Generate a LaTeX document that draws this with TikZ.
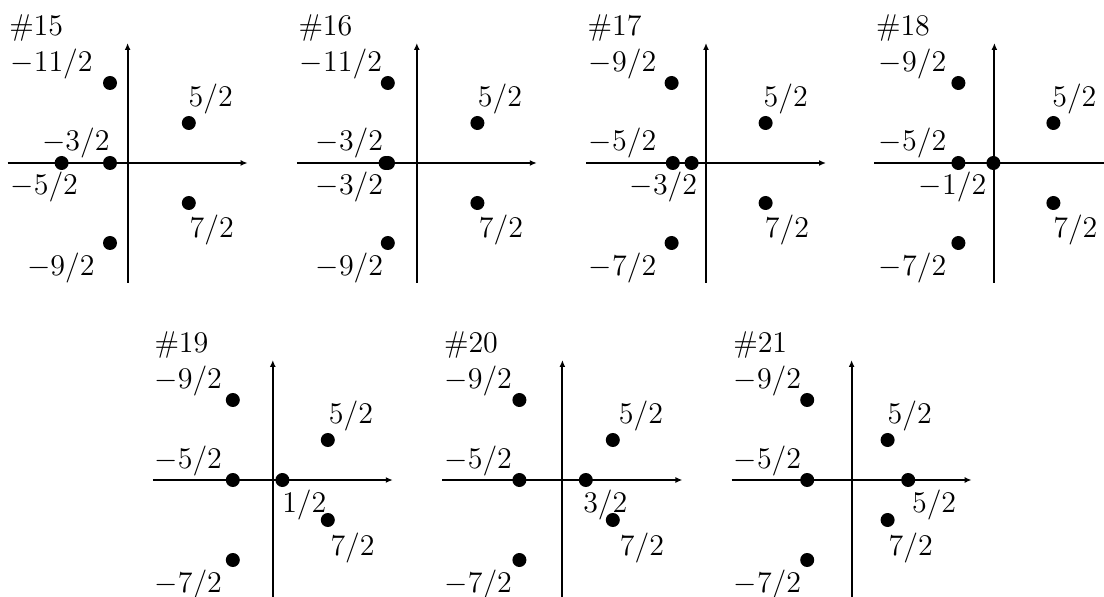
\documentclass[tikz,border=0pt]{standalone}
\usepackage{amsmath}
\usetikzlibrary{arrows.meta}

\begin{document}
\begin{tikzpicture}[
      x=16pt, y=16pt,
      every node/.style={font=\fontsize{12}{14}\selectfont},
      axis/.style={line width=0.75pt, -{Latex[length=2.8pt,width=2.4pt]}},
      dot/.style={circle, fill, draw=none, inner sep=0pt, minimum size=5.6pt},
      lbl/.style={anchor=base west, inner sep=0pt}
    ]
    \path[use as bounding box, clip] (0,0) rectangle (27.6,14.9);

    % axes and titles
    \foreach \n/\px/\py/\w in {15/3.19/10.825/1.0, 16/10.42/10.825/1.0,
                              17/17.65/10.825/1.0, 18/24.86/10.825/1.0,
                              19/6.82/2.9/0.75, 20/14.06/2.9/0.75, 21/21.29/2.9/0.75} {
      \begin{scope}[shift={(\px,\py)}]
        \coordinate (w\n) at (-3,0);
        \coordinate (e\n) at (3,0);
        \coordinate (s\n) at (0,-3);
        \coordinate (n\n) at (0,3);
        \draw[axis, line width=\w pt] (w\n) -- (e\n);
        \draw[axis] (s\n) -- (n\n);
        \node[lbl] (t\n) at (-2.97,3.175) {$\#\n$};
      \end{scope}
    }

    % #15
    \begin{scope}[shift={(3.19,10.825)}]
      \node[dot] (d15a) at (-0.44,2) {};
      \node[dot] (d15b) at (1.53,1) {};
      \node[dot] (d15c) at (-1.65,0) {};
      \node[dot] (d15d) at (-0.44,0) {};
      \node[dot] (d15e) at (1.53,-1) {};
      \node[dot] (d15f) at (-0.44,-2) {};
      \node[lbl] (l15a) at (-2.94,2.29) {$-11/2$};
      \node[lbl] (l15b) at (1.515,1.4) {$5/2$};
      \node[lbl] (l15c) at (-2.15,0.3) {$-3/2$};
      \node[lbl] (l15d) at (-2.94,-0.8) {$-5/2$};
      \node[lbl] (l15e) at (1.54,-1.875) {$7/2$};
      \node[lbl] (l15f) at (-2.525,-2.81) {$-9/2$};
    \end{scope}

    % #16
    \begin{scope}[shift={(10.42,10.825)}]
      \node[dot] (d16a) at (-0.725,2) {};
      \node[dot] (d16b) at (1.515,1) {};
      \node[dot] (d16c) at (-0.78,0) {};
      \node[dot] (d16d) at (-0.72,0) {};
      \node[dot] (d16e) at (1.515,-1) {};
      \node[dot] (d16f) at (-0.725,-2) {};
      \node[lbl] (l16a) at (-2.935,2.29) {$-11/2$};
      \node[lbl] (l16b) at (1.515,1.4) {$5/2$};
      \node[lbl] (l16c) at (-2.54,0.3) {$-3/2$};
      \node[lbl] (l16d) at (-2.54,-0.8) {$-3/2$};
      \node[lbl] (l16e) at (1.54,-1.875) {$7/2$};
      \node[lbl] (l16f) at (-2.54,-2.81) {$-9/2$};
    \end{scope}

    % #17
    \begin{scope}[shift={(17.65,10.825)}]
      \node[dot] (d17a) at (-0.86,2) {};
      \node[dot] (d17b) at (1.49,1) {};
      \node[dot] (d17c) at (-0.83,0) {};
      \node[dot] (d17d) at (-0.36,0) {};
      \node[dot] (d17e) at (1.49,-1) {};
      \node[dot] (d17f) at (-0.86,-2) {};
      \node[lbl] (l17a) at (-2.94,2.29) {$-9/2$};
      \node[lbl] (l17b) at (1.43,1.4) {$5/2$};
      \node[lbl] (l17c) at (-2.94,0.3) {$-5/2$};
      \node[lbl] (l17d) at (-1.92,-0.8) {$-3/2$};
      \node[lbl] (l17e) at (1.46,-1.875) {$7/2$};
      \node[lbl] (l17f) at (-2.94,-2.81) {$-7/2$};
    \end{scope}

    % #18
    \begin{scope}[shift={(24.86,10.825)}]
      \node[dot] (d18a) at (-0.9,2) {};
      \node[dot] (d18b) at (1.475,1) {};
      \node[dot] (d18c) at (-0.9,0) {};
      \node[dot] (d18d) at (-0.025,0) {};
      \node[dot] (d18e) at (1.475,-1) {};
      \node[dot] (d18f) at (-0.9,-2) {};
      \node[lbl] (l18a) at (-2.9,2.29) {$-9/2$};
      \node[lbl] (l18b) at (1.435,1.4) {$5/2$};
      \node[lbl] (l18c) at (-2.9,0.3) {$-5/2$};
      \node[lbl] (l18d) at (-1.9,-0.8) {$-1/2$};
      \node[lbl] (l18e) at (1.46,-1.875) {$7/2$};
      \node[lbl] (l18f) at (-2.9,-2.81) {$-7/2$};
    \end{scope}

    % #19
    \begin{scope}[shift={(6.82,2.9)}]
      \node[dot] (d19a) at (-1.0,2) {};
      \node[dot] (d19b) at (1.375,1) {};
      \node[dot] (d19c) at (-1.0,0) {};
      \node[dot] (d19d) at (0.24,0) {};
      \node[dot] (d19e) at (1.375,-1) {};
      \node[dot] (d19f) at (-1.0,-2) {};
      \node[lbl] (l19a) at (-2.97,2.29) {$-9/2$};
      \node[lbl] (l19b) at (1.39,1.4) {$5/2$};
      \node[lbl] (l19c) at (-2.97,0.3) {$-5/2$};
      \node[lbl] (l19d) at (0.225,-0.8) {$1/2$};
      \node[lbl] (l19e) at (1.43,-1.875) {$7/2$};
      \node[lbl] (l19f) at (-2.97,-2.81) {$-7/2$};
    \end{scope}

    % #20
    \begin{scope}[shift={(14.06,2.9)}]
      \node[dot] (d20a) at (-1.075,2) {};
      \node[dot] (d20b) at (1.26,1) {};
      \node[dot] (d20c) at (-1.075,0) {};
      \node[dot] (d20d) at (0.585,0) {};
      \node[dot] (d20e) at (1.26,-1) {};
      \node[dot] (d20f) at (-1.075,-2) {};
      \node[lbl] (l20a) at (-2.96,2.29) {$-9/2$};
      \node[lbl] (l20b) at (1.4,1.4) {$5/2$};
      \node[lbl] (l20c) at (-2.96,0.3) {$-5/2$};
      \node[lbl] (l20d) at (0.51,-0.8) {$3/2$};
      \node[lbl] (l20e) at (1.425,-1.875) {$7/2$};
      \node[lbl] (l20f) at (-2.96,-2.81) {$-7/2$};
    \end{scope}

    % #21
    \begin{scope}[shift={(21.29,2.9)}]
      \node[dot] (d21a) at (-1.11,2) {};
      \node[dot] (d21b) at (0.9,1) {};
      \node[dot] (d21c) at (-1.11,0) {};
      \node[dot] (d21d) at (1.415,0) {};
      \node[dot] (d21e) at (0.9,-1) {};
      \node[dot] (d21f) at (-1.11,-2) {};
      \node[lbl] (l21a) at (-2.96,2.29) {$-9/2$};
      \node[lbl] (l21b) at (0.89,1.4) {$5/2$};
      \node[lbl] (l21c) at (-2.96,0.3) {$-5/2$};
      \node[lbl] (l21d) at (1.5,-0.8) {$5/2$};
      \node[lbl] (l21e) at (0.915,-1.875) {$7/2$};
      \node[lbl] (l21f) at (-2.96,-2.81) {$-7/2$};
    \end{scope}
  \end{tikzpicture}
\end{document}
